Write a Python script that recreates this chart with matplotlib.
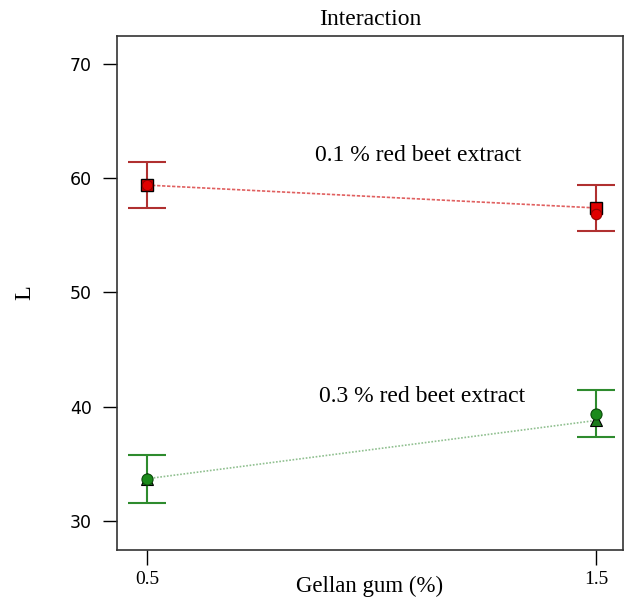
import matplotlib
matplotlib.use("Agg")
from matplotlib import pyplot as plt

gellan = [0.5, 1.5]

beet01_sq = [59.4, 57.4]
beet01_circ = [59.4, 56.9]
beet01_err = [2.0, 2.0]

beet03_circ = [33.7, 39.4]
beet03_tri = [33.7, 38.8]
beet03_err = [2.1, 2.05]

serif = "Liberation Serif"

fig = plt.figure(figsize=(6.25, 6.02), dpi=100)
ax = fig.add_axes([117 / 625, 1 - 550 / 602, (623 - 117) / 625, (550 - 36) / 602])

# red series: 0.1 % extract
ax.errorbar(gellan, beet01_sq, yerr=beet01_err, fmt="none", ecolor="#b03030",
            elinewidth=1.5, capsize=14, capthick=1.5, zorder=2)
ax.plot(gellan, beet01_sq, color="#e06060", ls=(0, (2, 1)), lw=1.2, zorder=3)
ax.plot(gellan, beet01_sq, "s", ms=8, mfc="#e00000", mec="black", mew=1, zorder=4)
ax.plot(gellan, beet01_circ, "o", ms=7.5, mfc="#e00000", mec="#900000", mew=0.8, zorder=5)

# green series: 0.3 % extract
ax.errorbar(gellan, beet03_circ, yerr=beet03_err, fmt="none", ecolor="#2e8b2e",
            elinewidth=1.5, capsize=14, capthick=1.5, zorder=2)
ax.plot(gellan, beet03_tri, color="#90c090", ls=(0, (1, 1)), lw=1.2, zorder=3)
ax.plot(gellan, beet03_tri, "^", ms=8, mfc="#1a7a1a", mec="black", mew=0.8, zorder=4)
ax.plot(gellan, beet03_circ, "o", ms=8, mfc="#1a8a1a", mec="#0a4a0a", mew=0.8, zorder=5)

ax.text(1.103, 62.0, "0.1 % red beet extract", ha="center", va="center",
        fontsize=17, family=serif)
ax.text(1.112, 40.9, "0.3 % red beet extract", ha="center", va="center",
        fontsize=17, family=serif)

ax.set_xlim(0.433, 1.56)
ax.set_ylim(27.46, 72.45)
ax.set_xticks(gellan)
ax.set_xticklabels(["0.5", "1.5"], family=serif, fontsize=14)
ax.set_yticks([30, 40, 50, 60, 70])
ax.tick_params(axis="y", labelsize=12.5, length=10, width=1, pad=8)
ax.tick_params(axis="x", length=11, width=1, pad=4)
ax.set_xlabel("Gellan gum (%)", family=serif, fontsize=16.5, va="center")
ax.xaxis.set_label_coords(0.5, -0.07)
ax.set_ylabel("L", family=serif, fontsize=17.5, va="center")
ax.yaxis.set_label_coords(-0.182, 0.5)
ax.set_title("Interaction", family=serif, fontsize=17, pad=8)
for s in ax.spines.values():
    s.set_linewidth(1.2)
    s.set_color("#333333")

plt.savefig("out.png")
